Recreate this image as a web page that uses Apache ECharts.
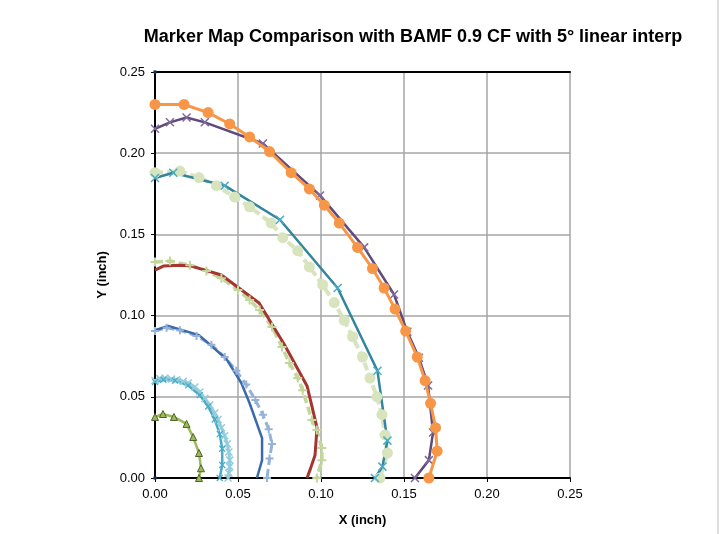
<!DOCTYPE html>
<html><head><meta charset="utf-8">
<script src="https://cdn.jsdelivr.net/npm/echarts@6/dist/echarts.min.js"></script>
<style>html,body{margin:0;padding:0;background:#fff}#c{width:726px;height:534px}</style>
</head><body><div id="c"></div>
<script>
const titleText = 'Marker Map Comparison with BAMF 0.9 CF with 5\u00B0 linear interp';
const xTicks = [0, 0.05, 0.10, 0.15, 0.20, 0.25];
const yTicks = [0, 0.05, 0.10, 0.15, 0.20, 0.25];

const orangeData = [[0,0.230],[0.0175,0.230],[0.032,0.225],[0.045,0.218],[0.057,0.210],[0.069,0.201],[0.082,0.188],[0.093,0.178],[0.102,0.168],[0.111,0.157],[0.122,0.142],[0.131,0.129],[0.138,0.117],[0.1446,0.104],[0.151,0.0905],[0.158,0.0745],[0.1627,0.060],[0.166,0.046],[0.169,0.031],[0.170,0.0166],[0.165,0]];
const purpleData = [[0,0.215],[0.009,0.219],[0.019,0.222],[0.030,0.219],[0.065,0.206],[0.0994,0.174],[0.126,0.142],[0.144,0.113],[0.152,0.090],[0.159,0.074],[0.1645,0.057],[0.1675,0.028],[0.165,0.011],[0.1566,0]];
const paleCircleData = [[0,0.188],[0.015,0.189],[0.0265,0.185],[0.037,0.180],[0.048,0.173],[0.057,0.167],[0.070,0.157],[0.077,0.148],[0.086,0.140],[0.093,0.130],[0.101,0.119],[0.108,0.108],[0.114,0.097],[0.119,0.087],[0.125,0.0745],[0.1295,0.0615],[0.1337,0.050],[0.1367,0.039],[0.1386,0.0265],[0.140,0.0154],[0.1355,0]];
const tealData = [[0,0.1847],[0.011,0.188],[0.042,0.180],[0.0753,0.159],[0.110,0.117],[0.134,0.066],[0.140,0.023],[0.137,0.007],[0.1325,0]];
const palePlusData = [[0,0.133],[0.009,0.1336],[0.021,0.131],[0.031,0.1275],[0.040,0.123],[0.050,0.1158],[0.057,0.1096],[0.063,0.1034],[0.0705,0.093],[0.0765,0.0807],[0.081,0.0708],[0.086,0.0616],[0.089,0.054],[0.0945,0.0357],[0.0975,0.0296],[0.1005,0.0185],[0.1005,0.011],[0.0975,0]];
const redData = [[0,0.128],[0.005,0.1305],[0.015,0.131],[0.022,0.1305],[0.040,0.125],[0.0627,0.1078],[0.078,0.082],[0.0916,0.0567],[0.0976,0.031],[0.0964,0.014],[0.0934,0.005],[0.0916,0]];
const blueData = [[0,0.091],[0.008,0.0936],[0.0265,0.088],[0.043,0.0733],[0.052,0.0585],[0.057,0.046],[0.0645,0.0246],[0.0645,0.011],[0.0614,0]];
const lightBlueData = [[0,0.0905],[0.007,0.0925],[0.015,0.091],[0.025,0.0875],[0.034,0.082],[0.042,0.0745],[0.049,0.066],[0.055,0.0575],[0.0605,0.048],[0.065,0.039],[0.0685,0.030],[0.0705,0.021],[0.069,0.012],[0.0675,0]];
const cyanInnerData = [[0,0.059],[0.005,0.0605],[0.012,0.060],[0.020,0.057],[0.027,0.051],[0.032,0.044],[0.036,0.036],[0.039,0.027],[0.0405,0.018],[0.0405,0.008],[0.039,0]];
const cyanOuterData = [[0,0.060],[0.003,0.0612],[0.006,0.0615],[0.010,0.061],[0.013,0.0605],[0.017,0.0595],[0.020,0.0585],[0.024,0.056],[0.027,0.053],[0.030,0.049],[0.033,0.045],[0.036,0.040],[0.038,0.036],[0.040,0.031],[0.042,0.026],[0.0435,0.021],[0.0445,0.016],[0.045,0.011],[0.045,0.007],[0.0445,0.003],[0.044,0]];
const greenTriData = [[0,0.0376],[0.0048,0.0394],[0.0114,0.0376],[0.019,0.0333],[0.023,0.0252],[0.0265,0.0154],[0.0277,0.006],[0.0265,0]];
const anchorData = [[0,0.25],[0,0]];

function fmt(v){ return v.toFixed(2); }

const chart = echarts.init(document.getElementById('c'));
const FONT = 'Liberation Sans';

function line(name, data, color, width, opts){
  return Object.assign({
    name, type:'line', data, xAxisIndex:0, yAxisIndex:0,
    lineStyle:{color, width, type: opts && opts.dash ? [8,4] : 'solid'},
    itemStyle:{color},
    symbol: 'none', symbolSize: 6, animation:false, z: 3
  }, opts && opts.extra || {});
}

chart.setOption({
  animation:false,
  title:{text:titleText, left:408, top:23, textAlign:'center',
    textStyle:{fontFamily:FONT, fontWeight:'bold', fontSize:18, color:'#000'}},
  grid:{left:155, right:156, top:72, bottom:56},
  xAxis:[{
    type:'value', min:0, max:0.25, interval:0.05, position:'bottom',
    name:'X (inch)', nameLocation:'middle', nameGap:36,
    nameTextStyle:{fontFamily:FONT, fontWeight:'bold', fontSize:13, color:'#000'},
    axisLine:{show:true, onZero:false, lineStyle:{color:'#000', width:2}},
    axisTick:{show:true, inside:false, length:4, lineStyle:{color:'#000'}},
    axisLabel:{formatter:fmt, fontFamily:FONT, fontSize:13, color:'#000', margin:10},
    splitLine:{show:true, lineStyle:{color:'#a6a6a6', width:1.5}}
  },{
    type:'value', min:0, max:0.25, interval:0.05, position:'top',
    axisLine:{show:true, onZero:false, lineStyle:{color:'#000', width:2}},
    axisTick:{show:false}, axisLabel:{show:false}, splitLine:{show:false}
  }],
  yAxis:[{
    type:'value', min:0, max:0.25, interval:0.05,
    name:'Y (inch)', nameLocation:'middle', nameGap:38, nameRotate:90,
    nameTextStyle:{fontFamily:FONT, fontWeight:'bold', fontSize:13, color:'#000'},
    axisLine:{show:true, onZero:false, lineStyle:{color:'#000', width:2}},
    axisTick:{show:true, inside:false, length:4, lineStyle:{color:'#000'}},
    axisLabel:{formatter:fmt, fontFamily:FONT, fontSize:13, color:'#000', margin:10},
    splitLine:{show:true, lineStyle:{color:'#a6a6a6', width:1.5}}
  }],
  graphic:[
    {type:'line', shape:{x1:718, y1:0, x2:718, y2:534}, style:{stroke:'#bfbfbf', lineWidth:1}}
  ],
  series:[
    line('paleCircle', paleCircleData, '#d7e4bd', 4, {dash:true, extra:{symbol:'circle', symbolSize:11, itemStyle:{color:'#d7e4bd'}}}),
    line('palePlus', palePlusData, '#c3d69b', 3.5, {dash:true, extra:{symbol:'path://M-1,0L1,0M0,-1L0,1', symbolSize:9, itemStyle:{color:'none', borderColor:'#c3d69b', borderWidth:2}}}),
    line('lightBlue', lightBlueData, '#95b3d7', 3, {dash:true, extra:{symbol:'path://M-1,0L1,0M0,-1L0,1', symbolSize:8, itemStyle:{color:'none', borderColor:'#95b3d7', borderWidth:2}}}),
    line('cyanOuter', cyanOuterData, '#93cddd', 3, {extra:{symbol:'path://M-1,-1L1,1M-1,1L1,-1', symbolSize:7, itemStyle:{color:'none', borderColor:'#93cddd', borderWidth:1.5}}}),
    line('cyanInner', cyanInnerData, '#4bacc6', 2.5, {extra:{symbol:'path://M-1,-1L1,1M-1,1L1,-1', symbolSize:6, itemStyle:{color:'none', borderColor:'#4bacc6', borderWidth:1.2}}}),
    line('purple', purpleData, '#604a7b', 2.5, {extra:{symbol:'path://M-1,-1L1,1M-1,1L1,-1', symbolSize:8, itemStyle:{color:'none', borderColor:'#7f6a9e', borderWidth:1.5}}}),
    line('orange', orangeData, '#f79646', 3, {extra:{symbol:'circle', symbolSize:11, itemStyle:{color:'#f79646'}, z:4}}),
    line('teal', tealData, '#31859c', 2.5, {extra:{symbol:'path://M-1,-1L1,1M-1,1L1,-1', symbolSize:8, itemStyle:{color:'none', borderColor:'#4bacc6', borderWidth:1.5}}}),
    line('red', redData, '#a5352f', 3, {extra:{symbol:'path://M-1,0L1,0', symbolSize:[10,2], itemStyle:{color:'none', borderColor:'#953735', borderWidth:2}}}),
    line('blue', blueData, '#3a6aaa', 2.5, {extra:{symbol:'path://M-1,0L1,0', symbolSize:[9,2], itemStyle:{color:'none', borderColor:'#4f81bd', borderWidth:1.5}}}),
    line('greenTri', greenTriData, '#9bbb59', 2.5, {extra:{symbol:'triangle', symbolSize:7, itemStyle:{color:'#9bbb59', borderColor:'#4f6228', borderWidth:1}}}),
    {name:'anchor', type:'scatter', data:anchorData, symbol:'circle', symbolSize:4, itemStyle:{color:'#1f3864'}, z:6}
  ]
});
</script>
</body></html>
